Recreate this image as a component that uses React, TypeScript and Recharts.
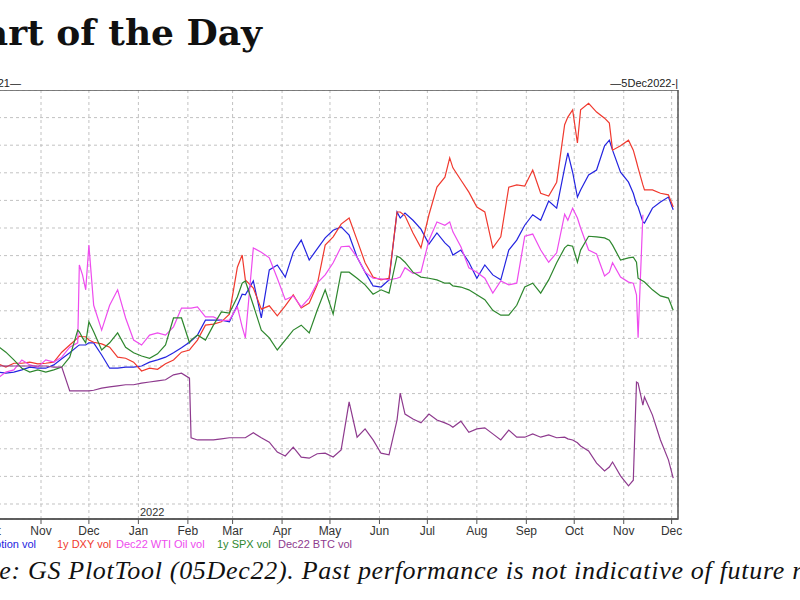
import { LineChart, Line, XAxis, YAxis, CartesianGrid, ReferenceArea } from "recharts";

const START = Date.UTC(2021, 8, 5);
const DAY_MS = 86400000;

// days since 5 Sep 2021
const days = [
  0, 5, 10, 15, 20, 25, 30, 35, 40, 45, 50, 55, 60, 65, 70, 75, 80, 81, 83, 85, 87, 90, 95, 100, 105, 110, 115, 120, 125,
  130, 135, 140, 145, 150, 151, 155, 160, 165, 170, 175, 180, 183, 185, 190, 195, 200, 205, 210, 215, 220, 225, 230, 235,
  240, 245, 250, 255, 260, 265, 270, 275, 280, 282, 285, 290, 295, 300, 305, 310, 313, 315, 320, 325, 330, 335, 340, 345,
  350, 355, 360, 365, 370, 375, 380, 385, 387, 390, 393, 395, 400, 405, 410, 413, 415, 420, 425, 428, 430, 431, 434, 435,
  440, 445, 450, 453,
];

const swaptionVol = [
  29.3, 28.9, 29.1, 29.5, 28.9, 29.1, 28.9, 28.7, 28.9, 29.3, 29.8, 29.6, 29.6, 30.2, 31.3, 32.4, 33.6, 33.8, 33.8, 33.8,
  34.2, 34.2, 32.0, 29.6, 29.6, 29.8, 29.8, 30.0, 30.7, 31.1, 31.6, 32.4, 33.3, 34.3, 34.5, 35.6, 38.3, 38.3, 38.3, 38.0,
  41.0, 43.0, 42.9, 45.4, 38.7, 47.4, 48.3, 46.1, 50.6, 52.8, 49.2, 51.2, 53.2, 54.6, 55.2, 53.7, 49.7, 47.0, 44.5, 44.3,
  45.6, 57.9, 56.8, 57.7, 56.4, 54.8, 52.1, 54.1, 52.3, 51.5, 50.1, 51.0, 48.8, 45.9, 48.3, 46.5, 45.6, 51.0, 52.8, 55.5,
  57.4, 56.4, 59.9, 58.6, 65.9, 68.6, 65.1, 60.6, 61.9, 64.6, 65.5, 69.9, 70.9, 69.1, 65.1, 63.3, 61.3, 59.3, 58.8, 56.1,
  55.9, 58.6, 59.7, 60.6, 58.3,
];

const dxyVol = [
  30.0, 30.4, 29.8, 30.2, 30.4, 30.0, 30.4, 29.8, 30.5, 30.5, 30.7, 30.4, 30.5, 30.7, 32.5, 33.8, 35.1, 35.4, 35.3, 35.3,
  34.7, 34.3, 34.0, 33.4, 31.6, 31.4, 30.7, 29.1, 29.6, 29.4, 30.4, 31.1, 32.5, 32.9, 33.3, 34.7, 37.4, 37.6, 38.0, 39.4,
  47.9, 50.1, 45.6, 44.1, 40.3, 40.9, 39.1, 40.9, 42.9, 40.5, 41.4, 44.7, 51.9, 53.4, 55.7, 56.8, 52.8, 48.7, 46.1, 45.6,
  45.9, 57.9, 57.9, 57.2, 54.1, 51.4, 57.4, 62.4, 64.2, 67.7, 65.9, 63.7, 61.5, 58.8, 57.9, 51.4, 53.4, 62.4, 62.8, 62.6,
  65.5, 61.3, 60.8, 63.3, 73.7, 75.1, 76.4, 70.4, 76.4, 77.6, 76.0, 74.9, 74.0, 69.1, 69.9, 70.9, 69.1, 67.0, 65.9, 62.8,
  61.9, 61.9, 61.3, 61.0, 58.8,
];

const wtiVol = [
  29.3, 28.9, 29.6, 29.1, 28.5, 29.3, 27.8, 28.9, 29.3, 31.1, 30.2, 29.8, 31.1, 30.7, 31.6, 33.4, 34.2, 48.3, 46.5, 43.8,
  51.9, 41.0, 36.5, 41.0, 43.8, 38.7, 34.7, 33.8, 35.6, 36.0, 35.6, 37.1, 40.5, 40.5, 40.5, 40.7, 38.9, 38.9, 38.2, 38.3,
  40.7, 37.1, 35.1, 51.4, 50.6, 49.6, 45.9, 42.0, 42.7, 40.7, 42.3, 45.0, 46.5, 48.7, 51.6, 51.7, 49.7, 47.0, 45.9, 45.8,
  45.6, 45.9, 46.1, 47.8, 46.8, 47.0, 52.8, 56.1, 55.5, 56.1, 54.3, 51.6, 47.8, 47.0, 45.9, 43.2, 45.4, 44.7, 45.0, 53.5,
  53.9, 51.0, 48.8, 50.5, 57.5, 56.4, 58.6, 56.8, 55.0, 51.0, 50.3, 46.3, 47.0, 48.7, 46.1, 45.2, 45.0, 42.9, 35.1, 57.4,
  null, null, null, null, null,
];

const spxVol = [
  32.5, 33.1, 33.8, 34.5, 34.9, 34.3, 33.6, 32.5, 31.1, 29.6, 28.9, 29.3, 28.9, 29.3, 29.8, 31.6, 36.5, 36.2, 35.1, 34.2,
  38.0, 36.2, 32.9, 34.2, 36.0, 33.4, 32.4, 31.8, 31.4, 32.2, 33.8, 38.7, 38.7, 34.2, 34.7, 35.6, 34.7, 37.4, 39.8, 39.6,
  42.5, 45.0, 45.4, 41.0, 36.5, 35.1, 32.9, 34.7, 36.5, 37.4, 36.0, 40.1, 43.8, 39.4, 47.0, 47.0, 45.9, 44.7, 43.0, 43.8,
  43.2, 49.9, 49.6, 48.8, 47.0, 46.1, 45.9, 45.6, 45.0, 45.0, 44.5, 44.3, 43.8, 42.9, 42.0, 40.1, 39.2, 39.2, 41.0, 44.3,
  45.0, 43.2, 45.6, 48.7, 51.4, 51.9, 51.7, 48.8, 51.0, 53.5, 53.4, 53.2, 52.8, 51.9, 49.2, 49.6, 49.7, 48.8, 45.9, 45.4,
  45.2, 43.8, 42.7, 42.3, 40.1,
];

const btcVol = [
  29.6, 29.8, 29.8, 30.0, 30.0, 29.8, 30.0, 30.0, 30.0, 30.0, 30.0, 30.0, 30.0, 29.8, 29.8, 25.5, 25.5, 25.5, 25.5, 25.5,
  25.5, 25.6, 26.0, 26.2, 26.4, 26.6, 26.6, 26.9, 27.1, 27.3, 27.5, 28.4, 28.7, 27.8, 17.0, 16.6, 16.6, 16.6, 16.8, 17.0,
  17.0, 17.0, 17.0, 17.9, 17.0, 16.2, 14.4, 13.7, 15.3, 13.5, 13.3, 14.1, 14.2, 13.5, 14.8, 23.5, 17.1, 18.6, 16.6, 14.2,
  13.9, 20.2, 25.1, 21.3, 20.4, 19.7, 21.3, 20.2, 19.7, 19.3, 18.9, 20.0, 18.0, 18.6, 18.8, 17.7, 16.6, 18.4, 17.1, 17.1,
  17.7, 17.1, 17.5, 17.0, 17.1, 16.8, 16.6, 16.1, 15.5, 14.6, 12.4, 11.0, 11.7, 12.6, 10.1, 8.3, 9.3, 27.1, 26.9, 22.9,
  24.4, 21.1, 16.6, 13.0, 9.7,
];

const monthTicks = [
  Date.UTC(2021, 9, 1), Date.UTC(2021, 10, 1), Date.UTC(2021, 11, 1), Date.UTC(2022, 0, 1), Date.UTC(2022, 1, 1),
  Date.UTC(2022, 2, 1), Date.UTC(2022, 3, 1), Date.UTC(2022, 4, 1), Date.UTC(2022, 5, 1), Date.UTC(2022, 6, 1),
  Date.UTC(2022, 7, 1), Date.UTC(2022, 8, 1), Date.UTC(2022, 9, 1), Date.UTC(2022, 10, 1), Date.UTC(2022, 11, 1),
];
const yTicks = [5, 10, 15, 20, 25, 30, 35, 40, 45, 50, 55, 60, 65, 70, 75];
const Y_MIN = 2.28;
const Y_MAX = 80;
const X_MIN = START;
const X_MAX = START + 456 * DAY_MS;

const series = [
  { key: "swaption", name: "Swaption vol", color: "#2424e0" },
  { key: "dxy", name: "1y DXY vol", color: "#f0392e" },
  { key: "wti", name: "Dec22 WTI Oil vol", color: "#ee4cee" },
  { key: "spx", name: "1y SPX vol", color: "#2e872e" },
  { key: "btc", name: "Dec22 BTC vol", color: "#8e3a8e" },
];

const data = days.map((d, i) => ({
  t: START + d * DAY_MS,
  swaption: swaptionVol[i],
  dxy: dxyVol[i],
  wti: wtiVol[i],
  spx: spxVol[i],
  btc: btcVol[i],
}));

const sans = "'Liberation Sans', Arial, sans-serif";
const monthName = (v: number) => new Date(v).toLocaleString("en-US", { month: "short", timeZone: "UTC" });

// legend label positions (left px) for the visible part of the crop
const legendLeft = [null, 57, 116, 217, 278];

export default function App() {
  return (
    <div style={{ position: "fixed", left: 0, top: 0, width: 800, height: 600, overflow: "hidden", background: "#fff" }}>
      <div
        style={{
          position: "absolute", right: 538, top: 14, whiteSpace: "nowrap",
          fontFamily: "'DejaVu Serif', serif", fontWeight: 700, fontSize: 36, lineHeight: "36px", color: "#111",
        }}
      >
        Chart of the Day
      </div>

      <div style={{ position: "absolute", right: 779, top: 78, whiteSpace: "nowrap", fontFamily: sans, fontSize: 11, lineHeight: "11px", color: "#222" }}>
        |—5Sep2021—
      </div>
      <div style={{ position: "absolute", right: 122, top: 78, whiteSpace: "nowrap", fontFamily: sans, fontSize: 11, lineHeight: "11px", color: "#222" }}>
        —5Dec2022-|
      </div>

      <div style={{ position: "absolute", left: -50, top: 90 }}>
        <LineChart width={745} height={459} data={data} margin={{ top: 0, right: 17, bottom: 0, left: 0 }}>
          <CartesianGrid stroke="#c2c2c2" strokeDasharray="3 3" />
          <XAxis
            dataKey="t"
            type="number"
            domain={[X_MIN, X_MAX]}
            ticks={monthTicks}
            interval={0}
            allowDataOverflow
            tickFormatter={monthName}
            height={30}
            tickSize={5}
            tickMargin={2}
            tick={{ fontSize: 12, fill: "#333", fontFamily: sans }}
            axisLine={{ stroke: "#555", strokeWidth: 1.5 }}
            tickLine={{ stroke: "#555" }}
          />
          <YAxis hide type="number" domain={[Y_MIN, Y_MAX]} ticks={yTicks} allowDataOverflow width={0} />
          <ReferenceArea x1={X_MIN} x2={X_MAX} y1={Y_MIN} y2={Y_MAX} fill="none" stroke="#555" strokeWidth={1.5} ifOverflow="visible" />
          {series.map((s) => (
            <Line
              key={s.key}
              type="linear"
              dataKey={s.key}
              name={s.name}
              stroke={s.color}
              strokeWidth={1.2}
              dot={false}
              isAnimationActive={false}
            />
          ))}
        </LineChart>
      </div>

      <div style={{ position: "absolute", left: 140, top: 507, fontFamily: sans, fontSize: 11, lineHeight: "11px", color: "#333" }}>2022</div>

      {series.map((s, i) => (
        <div
          key={s.key}
          style={{
            position: "absolute", top: 539, whiteSpace: "nowrap", fontFamily: sans, fontSize: 11, lineHeight: "11px", color: s.color,
            ...(legendLeft[i] === null ? { right: 764 } : { left: legendLeft[i] as number }),
          }}
        >
          {s.name}
        </div>
      ))}

      <div
        style={{
          position: "absolute", left: -64, top: 558, whiteSpace: "nowrap", letterSpacing: 0.7,
          fontFamily: "'Liberation Serif', serif", fontStyle: "italic", fontSize: 26, lineHeight: "26px", color: "#111",
        }}
      >
        Source: GS PlotTool (05Dec22). Past performance is not indicative of future results.
      </div>
    </div>
  );
}
